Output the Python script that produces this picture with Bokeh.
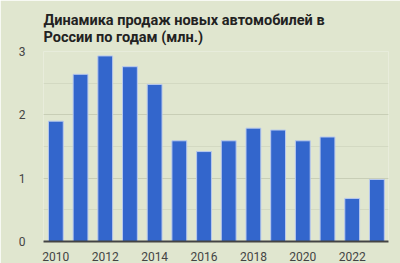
from bokeh.plotting import figure
from bokeh.models import Title, FixedTicker, SingleIntervalTicker, Range1d
from bokeh.embed import file_html
from bokeh.resources import INLINE

years = [2010, 2011, 2012, 2013, 2014, 2015, 2016, 2017, 2018, 2019, 2020, 2021, 2022, 2023]
sales = [1.90, 2.64, 2.93, 2.76, 2.48, 1.59, 1.42, 1.59, 1.79, 1.76, 1.59, 1.65, 0.68, 0.98]
x_ticks = [2010, 2012, 2014, 2016, 2018, 2020, 2022]
title_lines = ["Динамика продаж новых автомобилей в", "России по годам (млн.)"]

BG = "#e0e6cf"
p = figure(width=400, height=263, output_backend="svg", toolbar_location=None,
           x_range=Range1d(2009.5, 2023.47), y_range=Range1d(0, 3),
           min_border_left=43, min_border_right=12, min_border_bottom=0, min_border_top=51)
p.background_fill_color = BG
p.border_fill_color = BG
p.outline_line_color = None

p.add_layout(Title(text="\n".join(title_lines), text_font="Roboto", text_font_size="14.5px",
                   text_font_style="bold", text_color="#222222", text_line_height=1.0,
                   align="left", vertical_align="top", standoff=8), "above")

p.vbar(x=years, top=sales, width=0.6, fill_color="#3366cc",
       line_color="#b8c9ee", line_width=1)

p.yaxis.ticker = SingleIntervalTicker(interval=1, num_minor_ticks=2)
p.xaxis.ticker = FixedTicker(ticks=x_ticks)
for ax in (p.xaxis, p.yaxis):
    ax.major_label_text_font = "Roboto"
    ax.major_label_text_font_size = "12px"
    ax.major_label_text_color = "#444444"
    ax.major_tick_line_color = None
    ax.minor_tick_line_color = None
p.yaxis.axis_line_color = None
p.yaxis.major_label_standoff = 12
p.xaxis.axis_line_color = "#444444"
p.xaxis.axis_line_width = 2
p.xaxis.major_label_standoff = 4

p.xgrid.grid_line_color = None
p.ygrid.grid_line_color = "#c8ceb6"
p.ygrid.minor_grid_line_color = "#d3d9c2"

open("out.html", "w").write(file_html(p, INLINE))
